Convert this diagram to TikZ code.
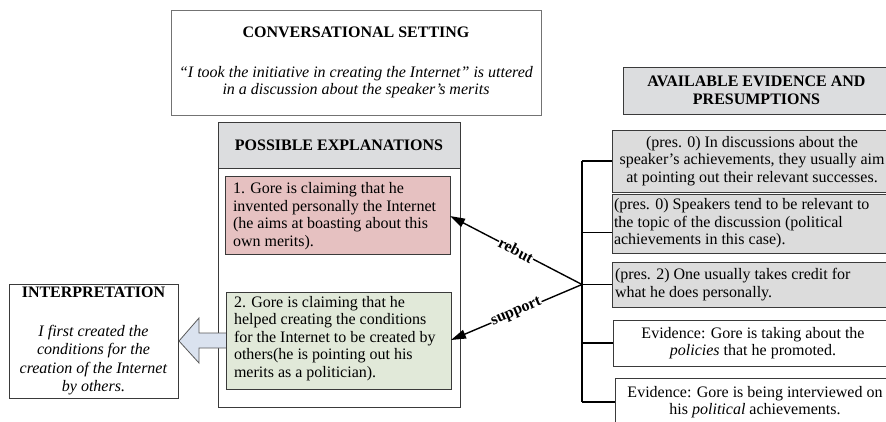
\documentclass[tikz,border=0pt]{standalone}
\usepackage{fontspec}
\setmainfont{Liberation Serif}
\usetikzlibrary{arrows.meta,calc}

\definecolor{headgray}{HTML}{DCDDDF}
\definecolor{presgray}{HTML}{DCDCDC}
\definecolor{rebutred}{HTML}{E6C1C1}
\definecolor{supportgreen}{HTML}{E1E9D9}
\definecolor{arrowblue}{HTML}{DAE2EF}
\definecolor{edgegray}{HTML}{3A3A3A}

\tikzset{
  basefont/.style={font=\fontsize{16}{17.5}\selectfont},
  framebox/.style={draw=edgegray, line width=0.9pt, inner sep=0pt, outer sep=0pt, basefont},
  plaintext/.style={inner sep=0pt, outer sep=0pt, basefont},
  blockarrow/.style={draw=black!65, line width=0.8pt, fill=arrowblue},
  bracket/.style={draw=black, line width=1.5pt},
  evarrow/.style={draw=black, line width=1.4pt, -{Triangle[length=15pt,width=9pt]}},
  evlabel/.style={font=\fontsize{16}{17}\selectfont\bfseries, fill=white, inner sep=0.5pt, sloped, pos=0.5}
}

\begin{document}
\begin{tikzpicture}[x=1pt,y=-1pt]
\useasboundingbox (0,0) rectangle (886,422);
\clip (0,0) rectangle (886,422);

% conversational setting
\node[framebox, draw=black!55, line width=0.8pt, minimum width=370pt, minimum height=105pt, align=center] (conv) at (356,62.5)
  {\textbf{CONVERSATIONAL SETTING}\\[22pt]
   \textit{“I took the initiative in creating the Internet” is uttered}\\
   \textit{in a discussion about the speaker’s merits}};

% possible explanations panel
\node[framebox, minimum width=242pt, minimum height=285pt] (expl) at (339,264.5) {};
\node[framebox, fill=headgray, minimum width=242pt, minimum height=46pt] (explhead) at (339,145)
  {\textbf{POSSIBLE EXPLANATIONS}};

% interpretation
\node[framebox, minimum width=169pt, minimum height=114pt, align=center] (interp) at (93.5,341)
  {\textbf{INTERPRETATION}\\[21pt]
   \textit{I first created the}\\[1pt]
   \textit{conditions for the}\\[1pt]
   \textit{creation of the Internet}\\[1pt]
   \textit{by others.}};

% block arrow towards the interpretation
\coordinate (tipA) at ([xshift=1pt]interp.east);
\draw[blockarrow] (tipA) -- ++(20,-23) -- ++(0,15) -- ++(28,0) -- ++(0,15) -- ++(-28,0) -- ++(0,15) -- cycle;

% explanation 1
\node[framebox, fill=rebutred, minimum width=225pt, minimum height=78pt] (gore1) at (337.5,215) {};
\node[plaintext, anchor=west, align=left] (gore1txt) at ([xshift=8pt,yshift=-1pt]gore1.west)
  {1. Gore is claiming that he\\
   invented personally the Internet\\
   (he aims at boasting about this\\
   own merits).};

% explanation 2
\node[framebox, fill=supportgreen, minimum width=225pt, minimum height=97pt] (gore2) at (338.5,340.5) {};
\node[plaintext, anchor=west, align=left] (gore2txt) at ([xshift=8pt,yshift=2pt]gore2.west)
  {2. Gore is claiming that he\\
   helped creating the conditions\\
   for the Internet to be created by\\
   others(he is pointing out his\\
   merits as a politician).};

% available evidence and presumptions
\node[framebox, fill=headgray, minimum width=267pt, minimum height=47pt, align=center] (evhead) at (756.5,90.5)
  {\textbf{AVAILABLE EVIDENCE AND}\\\textbf{PRESUMPTIONS}};

\node[framebox, fill=presgray, minimum width=280pt, minimum height=62pt, align=center] (b1) at (752,161)
  {(pres. 0) In discussions about the\\
   speaker’s achievements, they usually aim\\
   at pointing out their relevant successes.};

\node[framebox, fill=presgray, minimum width=280pt, minimum height=59pt] (b2) at (752,223.5) {};
\node[plaintext, anchor=west, align=left] (b2txt) at ([xshift=2pt]b2.west)
  {(pres. 0) Speakers tend to be relevant to\\
   the topic of the discussion (political\\
   achievements in this case).};

\node[framebox, fill=presgray, minimum width=280pt, minimum height=45pt] (b3) at (752,284.5) {};
\node[plaintext, anchor=west, align=left] (b3txt) at ([xshift=3pt]b3.west)
  {(pres. 2) One usually takes credit for\\
   what he does personally.};

\node[framebox, fill=white, minimum width=280pt, minimum height=46pt, align=center] (b4) at (753,343)
  {Evidence: Gore is taking about the\\
   \textit{policies} that he promoted.};

\node[framebox, fill=white, minimum width=280pt, minimum height=48pt, align=center] (b5) at (755,402)
  {Evidence: Gore is being interviewed on\\
   his \textit{political} achievements.};

% bracket joining the evidence
\coordinate (spine) at (582,0);
\coordinate (apex) at (b3.west -| spine);
\draw[bracket] (b1.west -| spine) -- (b5.west -| spine);
\draw[bracket] (b1.west) -- (b1.west -| spine);
\draw[bracket] ([yshift=-9pt]b2.west) -- ([yshift=-9pt]b2.west -| spine);
\draw[bracket] (b3.west) -- (apex);
\draw[bracket] (b4.west) -- (b4.west -| spine);
\draw[bracket] (b5.west) -- (b5.west -| spine);

% rebut / support relations
\draw[evarrow] (apex) -- node[evlabel] {rebut} ([yshift=-1pt]gore1.east);
\draw[evarrow] (apex) -- node[evlabel] {support} ([yshift=0.5pt]gore2.east);
\end{tikzpicture}
\end{document}
